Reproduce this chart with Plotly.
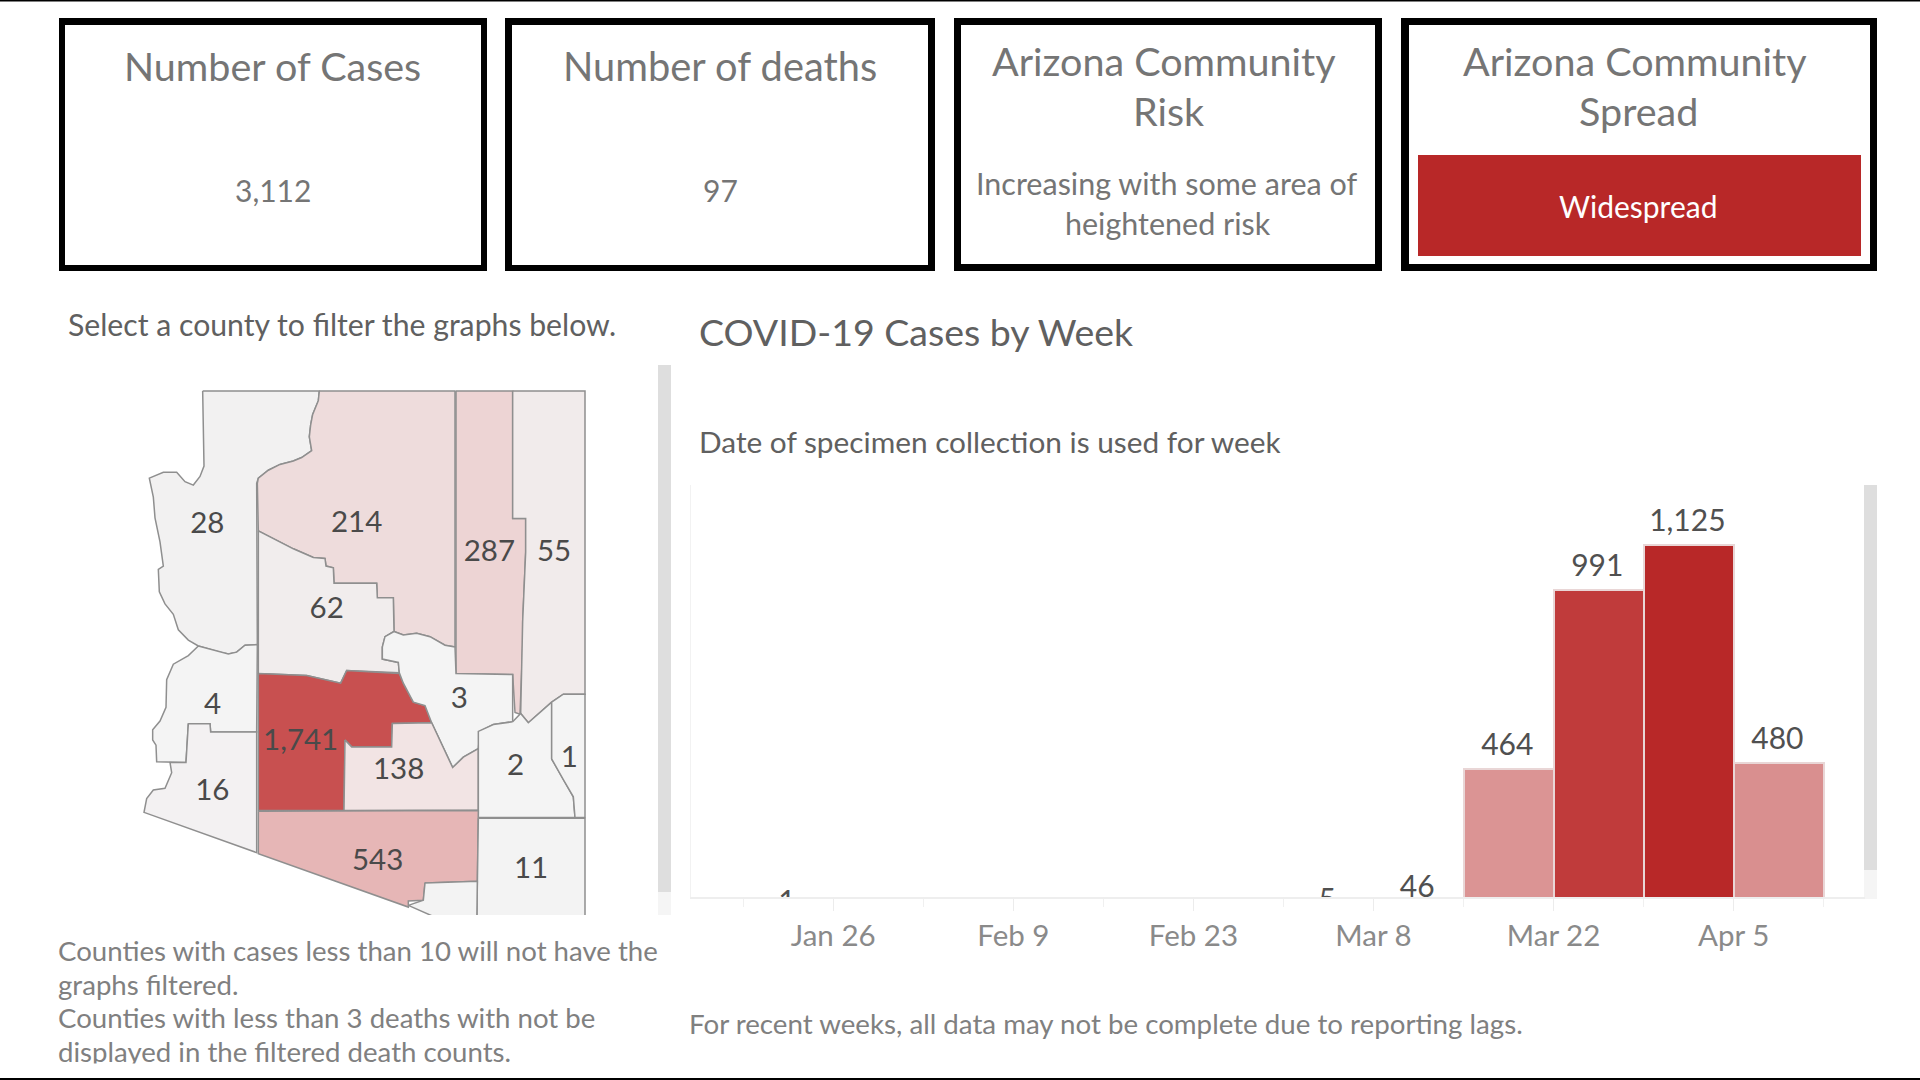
import pandas as pd
import plotly.graph_objects as go

W, H = 1920, 1080

# ---------- chart data ----------
week_start = ["2020-01-19", "2020-03-01", "2020-03-08", "2020-03-15", "2020-03-22", "2020-03-29", "2020-04-05"]
week_cases = [1, 5, 46, 464, 991, 1125, 480]
bar_colors = ["#f0e6e6", "#f0e6e6", "#eedcdc", "#db9494", "#c03b3b", "#b82828", "#d98f8f"]
tick_dates = ["2020-01-26", "2020-02-09", "2020-02-23", "2020-03-08", "2020-03-22", "2020-04-05"]
tick_labels = ["Jan 26", "Feb 9", "Feb 23", "Mar 8", "Mar 22", "Apr 5"]

county_names = ["Mohave", "Coconino", "Navajo", "Apache", "Yavapai", "La Paz", "Maricopa", "Gila",
                "Pinal", "Graham", "Greenlee", "Yuma", "Pima", "Cochise", "Santa Cruz"]
county_cases = [28, 214, 287, 55, 62, 4, 1741, 3, 138, 2, 1, 16, 543, 11, None]
county_colors = ["#f2f1f1", "#eedcdc", "#edd4d4", "#f1ebeb", "#f1eded", "#f4f4f4", "#c85050", "#f4f4f4",
                 "#f2e4e4", "#f4f4f4", "#f4f4f4", "#f3f1f2", "#e6b6b6", "#f3f3f3", "#f3f3f3"]
county_label_x = [232, 680, 1078, 1272, 590, 248, 512, 988, 806, 1157, 1318, 247, 743, 1203, None]
county_label_y = [424, 419, 505, 505, 669, 949, 1054, 932, 1137, 1125, 1102, 1197, 1402, 1424, None]

# county outlines (map units)
county_shapes = [
    [(218,32),(568,32),(565,60),(548,100),(542,130),(538,165),(545,205),(515,225),(490,235),(450,245),(415,262),(385,285),(380,300),(382,768),(345,770),(320,790),(295,795),(270,790),(205,772),(175,755),(145,725),(130,680),(105,650),(88,615),(85,550),(100,540),(90,470),(75,400),(70,340),(58,285),(100,268),(140,268),(165,295),(190,305),(210,280),(222,250)],
    [(568,32),(975,32),(975,775),(945,770),(900,745),(860,735),(820,740),(792,730),(790,632),(742,632),(740,590),(612,590),(610,545),(588,540),(585,518),(550,515),(490,490),(440,465),(385,438),(382,300),(385,285),(415,262),(450,245),(490,235),(515,225),(545,205),(538,165),(542,130),(548,100),(565,60)],
    [(978,32),(1148,32),(1148,402),(1187,402),(1187,500),(1178,700),(1178,770),(1170,970),(1155,965),(1148,855),(978,852)],
    [(1148,32),(1365,32),(1365,912),(1300,912),(1265,935),(1230,965),(1195,995),(1172,968),(1178,770),(1178,700),(1187,500),(1187,402),(1148,402)],
    [(385,438),(440,465),(490,490),(550,515),(585,518),(588,540),(610,545),(612,590),(740,590),(742,632),(790,632),(792,730),(765,745),(757,775),(757,810),(805,820),(808,850),(650,843),(632,880),(530,858),(385,852)],
    [(205,772),(270,790),(295,795),(320,790),(345,770),(382,768),(380,1022),(242,1022),(240,998),(175,998),(168,1110),(80,1108),(78,1060),(68,1045),(68,1015),(90,990),(108,950),(110,870),(130,825),(175,800)],
    [(385,852),(530,858),(632,880),(650,843),(808,852),(820,880),(850,935),(885,945),(905,995),(787,997),(785,1065),(665,1065),(645,1045),(642,1250),(385,1250)],
    [(792,730),(820,740),(860,735),(900,745),(945,770),(975,775),(978,852),(1148,855),(1148,992),(1090,1000),(1050,1020),(1045,1070),(1000,1095),(968,1125),(905,995),(885,945),(850,935),(820,880),(808,850),(805,820),(757,810),(757,775),(765,745)],
    [(645,1045),(665,1065),(785,1065),(787,997),(905,995),(968,1125),(1000,1095),(1045,1070),(1045,1248),(642,1250)],
    [(1148,992),(1172,968),(1195,995),(1230,965),(1265,935),(1265,1100),(1300,1160),(1330,1210),(1335,1270),(1045,1270),(1045,1020),(1090,1000)],
    [(1265,935),(1300,912),(1365,912),(1365,1270),(1335,1270),(1330,1210),(1300,1160),(1265,1100)],
    [(175,998),(240,998),(242,1022),(380,1022),(380,1372),(42,1255),(50,1215),(70,1190),(105,1185),(125,1140),(120,1110),(168,1110)],
    [(385,1252),(1045,1250),(1042,1455),(885,1460),(880,1510),(835,1512),(835,1530),(385,1375)],
    [(1045,1272),(1365,1272),(1365,1600),(1040,1600)],
    [(885,1460),(1042,1455),(1040,1600),(1010,1600),(835,1525),(880,1510)],
]

# ---------- page texts ----------
FONT = "Lato"
GREY = "#757575"
card_texts = [
    ("Number of Cases", 272, 65, 39.5, GREY),
    ("Number of deaths", 720, 65, 39.8, GREY),
    ("Arizona Community", 1164, 60, 39.5, GREY),
    ("Risk", 1168, 110, 39.5, GREY),
    ("Arizona Community", 1635, 60, 39.5, GREY),
    ("Spread", 1638, 110, 39.5, GREY),
    ("3,112", 273, 190, 30, GREY),
    ("97", 720, 190, 30, GREY),
    ("Increasing with some area of", 1166, 183, 30.5, GREY),
    ("heightened risk", 1168, 223, 30.5, GREY),
    ("Widespread", 1638, 206, 30, "#ffffff"),
]
left_texts = [
    ("Select a county to filter the graphs below.", 66, 324, 30.2, "#606060"),
    ("COVID-19 Cases by Week", 697, 332, 37.5, "#606060"),
    ("Date of specimen collection is used for week", 697, 442, 29.8, "#606060"),
    ("Counties with cases less than 10 will not have the", 56, 950, 27.6, "#808080"),
    ("graphs filtered.", 56, 984, 27.6, "#808080"),
    ("Counties with less than 3 deaths with not be", 56, 1018, 27.6, "#808080"),
    ("displayed in the filtered death counts.", 56, 1051, 27.6, "#808080"),
    ("For recent weeks, all data may not be complete due to reporting lags.", 687, 1023, 27.7, "#808080"),
]

def px(x):
    return x / W

def py(y):
    return 1 - y / H

fig = go.Figure()

# weekly bars
fig.add_trace(go.Bar(
    x=week_start, y=week_cases, width=7 * 86400000, offset=0,
    marker=dict(color=bar_colors, line=dict(color="#e9d6d6", width=2)),
    xaxis="x", yaxis="y", hoverinfo="y", showlegend=False,
))
# bar labels: clipped by the axis as in the source view
label_x = (pd.to_datetime(week_start) + pd.Timedelta(days=3.4)).strftime("%Y-%m-%d %H:%M")
fig.add_trace(go.Scatter(
    x=list(label_x), y=[v + 63 for v in week_cases],
    text=[f"{v:,}" for v in week_cases], mode="text", textposition="middle center",
    textfont=dict(family=FONT, size=30, color="#505050"),
    cliponaxis=True, xaxis="x", yaxis="y", hoverinfo="skip", showlegend=False,
))

# counties
for name, shape, colour in zip(county_names, county_shapes, county_colors):
    xs = [p[0] for p in shape] + [shape[0][0]]
    ys = [p[1] for p in shape] + [shape[0][1]]
    fig.add_trace(go.Scatter(
        x=xs, y=ys, mode="lines", fill="toself", fillcolor=colour,
        line=dict(color="#8f8f8f", width=1.5), name=name,
        xaxis="x2", yaxis="y2", hoverinfo="name", showlegend=False,
    ))
fig.add_trace(go.Scatter(
    x=county_label_x[:-1], y=county_label_y[:-1],
    text=[f"{v:,}" for v in county_cases[:-1]], mode="text", textposition="middle center",
    textfont=dict(family=FONT, size=29.5, color="#4a4a4a"),
    xaxis="x2", yaxis="y2", hoverinfo="skip", showlegend=False,
))

def rect(x0, y0, x1, y1, colour):
    return dict(type="rect", xref="paper", yref="paper", x0=px(x0), x1=px(x1), y0=py(y0), y1=py(y1),
                fillcolor=colour, line=dict(width=0), layer="below")

shapes = [
    rect(0, 0, W, 1.5, "#000000"), rect(0, 1078, W, H, "#000000"),
    # cards: black frame, white inside
    rect(59, 18, 487, 271, "#000000"), rect(65, 25, 481, 265, "#ffffff"),
    rect(505, 18, 935, 271, "#000000"), rect(512, 25, 928, 265, "#ffffff"),
    rect(954, 18, 1382, 271, "#000000"), rect(961, 25, 1375, 264, "#ffffff"),
    rect(1401, 18, 1877, 271, "#000000"), rect(1409, 25, 1870, 264, "#ffffff"),
    rect(1418, 155, 1861, 256, "#b82828"),
    # scroll bars
    rect(658, 365, 671, 892, "#dedede"), rect(658, 892, 671, 915, "#f5f5f5"),
    rect(1864, 485, 1877, 870, "#dedede"), rect(1864, 870, 1877, 899, "#f5f5f5"),
]

annotations = []
for t, x, y, size, colour in card_texts:
    annotations.append(dict(text=t, x=px(x), y=py(y), xref="paper", yref="paper", xanchor="center",
                            yanchor="middle", showarrow=False, font=dict(family=FONT, size=size, color=colour)))
for t, x, y, size, colour in left_texts:
    annotations.append(dict(text=t, x=px(x), y=py(y), xref="paper", yref="paper", xanchor="left",
                            yanchor="middle", showarrow=False, font=dict(family=FONT, size=size, color=colour)))
# the last footnote line is cut off by the dashboard edge
annotations.append(dict(text=" ", x=px(50), y=py(1063), xref="paper", yref="paper", xanchor="left",
                        yanchor="top", showarrow=False, width=600, height=10, bgcolor="#ffffff",
                        font=dict(size=8), borderpad=0))

fig.update_layout(
    width=W, height=H, margin=dict(l=0, r=0, t=0, b=0), autosize=False,
    paper_bgcolor="#ffffff", plot_bgcolor="#ffffff", shapes=shapes, annotations=annotations,
    bargap=0, showlegend=False,
    xaxis=dict(domain=[px(691), px(1865)], type="date", range=["2020-01-14 22:40", "2020-04-15 05:00"],
               tickvals=tick_dates, ticktext=tick_labels, ticks="outside", ticklen=12, tickcolor="#ececec",
               tickwidth=1, showgrid=False, zeroline=False, showline=True, linecolor="#eeeeee", linewidth=2,
               tickfont=dict(family=FONT, size=29.5, color="#8a8a8a"),
               minor=dict(dtick=7 * 86400000, tick0="2020-01-19", ticks="outside", ticklen=8,
                          tickcolor="#f0f0f0", showgrid=False)),
    yaxis=dict(domain=[py(897), py(485)], range=[85.5, 1301], showticklabels=False, ticks="",
               showgrid=False, zeroline=False, showline=True, linecolor="#f2f2f2", linewidth=1),
    xaxis2=dict(domain=[px(130), px(610)], range=[0, 1440], visible=False, anchor="y2"),
    yaxis2=dict(domain=[py(915), py(380)], range=[1553, 0], visible=False, anchor="x2"),
)

fig.write_html("out.html", config={"displayModeBar": False},
               post_script="document.body.style.margin='0';document.documentElement.style.overflow='hidden';")
